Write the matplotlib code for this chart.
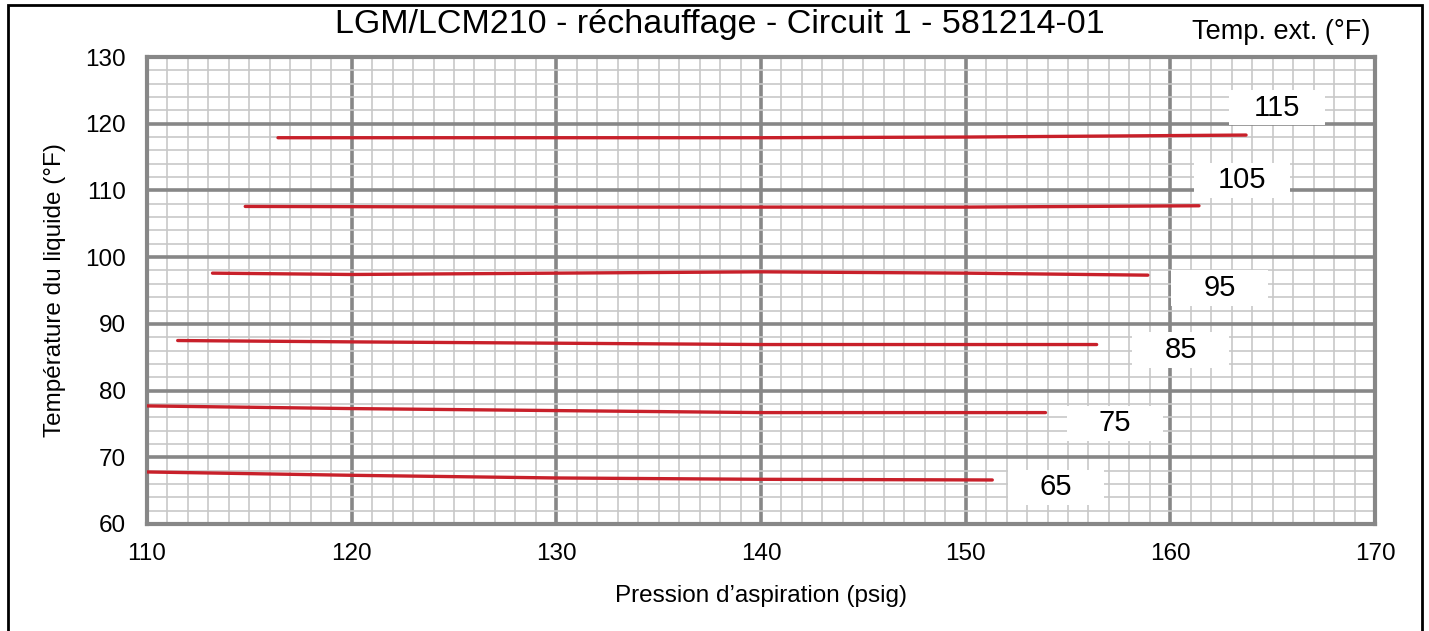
import numpy as np
import matplotlib.pyplot as plt
from matplotlib.patches import Rectangle

plt.rcParams['font.family'] = ['Liberation Sans', 'DejaVu Sans']

# Temp. ext. curves (psig -> liquid temp °F)
temps = ['115', '105', '95', '85', '75', '65']
x_115 = [116.4, 130, 140, 150, 163.7]
y_115 = [117.9, 117.9, 117.9, 118.0, 118.3]
x_105 = [114.8, 130, 140, 150, 161.4]
y_105 = [107.6, 107.5, 107.5, 107.5, 107.7]
x_95 = [113.2, 120, 130, 140, 150, 158.9]
y_95 = [97.6, 97.4, 97.6, 97.8, 97.6, 97.3]
x_85 = [111.5, 120, 130, 140, 150, 156.4]
y_85 = [87.5, 87.3, 87.1, 86.9, 86.9, 86.9]
x_75 = [110, 120, 130, 140, 153.9]
y_75 = [77.7, 77.3, 77.0, 76.7, 76.7]
x_65 = [110, 120, 130, 140, 151.3]
y_65 = [67.8, 67.3, 66.9, 66.7, 66.6]
curves_x = [x_115, x_105, x_95, x_85, x_75, x_65]
curves_y = [y_115, y_105, y_95, y_85, y_75, y_65]

# label positions
label_x = [165.2, 163.5, 162.4, 160.5, 157.3, 154.4]
label_y = [122.4, 111.5, 95.4, 86.1, 75.1, 65.5]

fig = plt.figure(figsize=(14.29, 6.31), dpi=100)
ax = fig.add_axes([147 / 1429, 1 - 524 / 631, (1375 - 147) / 1429, (524 - 57) / 631])

ax.set_xlim(110, 170)
ax.set_ylim(60, 130)
ax.set_xticks(np.arange(110, 171, 10))
ax.set_yticks(np.arange(60, 131, 10))
ax.set_xticks(np.arange(110, 171, 1), minor=True)
ax.set_yticks(np.arange(60, 131, 2), minor=True)
ax.grid(which='minor', color='#c8c8c8', linewidth=1.2, zorder=0)
ax.grid(which='major', color='#878787', linewidth=2.6, zorder=0)
ax.set_axisbelow(True)
ax.tick_params(which='both', length=0, labelsize=17.5)
ax.tick_params(axis='x', pad=14)
ax.tick_params(axis='y', pad=15)
for s in ax.spines.values():
    s.set_color('#878787')
    s.set_linewidth(3)

for xs, ys in zip(curves_x, curves_y):
    ax.plot(xs, ys, color='#c8202a', linewidth=2.4, solid_capstyle='round', zorder=3)

box_w, box_h = 4.7, 5.3
for t, lx, ly in zip(temps, label_x, label_y):
    ax.add_patch(Rectangle((lx - box_w / 2, ly - box_h / 2), box_w, box_h,
                           facecolor='white', edgecolor='none', zorder=4))
    ax.text(lx, ly, t, fontsize=21, ha='center', va='center', zorder=5)

ax.set_xlabel('Pression d\u2019aspiration (psig)', fontsize=17.5, labelpad=14)
ax.set_ylabel('Température du liquide (°F)', fontsize=17.5, labelpad=14)

fig.text(720 / 1429, 1 - 25 / 631, 'LGM/LCM210 - réchauffage - Circuit 1 - 581214-01',
         fontsize=24.5, ha='center', va='center')
fig.text(1281 / 1429, 1 - 32 / 631, 'Temp. ext. (°F)', fontsize=19.5, ha='center', va='center')

fig.patches.append(Rectangle((8 / 1429, -0.05), (1422 - 8) / 1429, 1.05 - 5 / 631,
                             transform=fig.transFigure, fill=False,
                             edgecolor='black', linewidth=2))

plt.savefig('out.png', dpi=100)
